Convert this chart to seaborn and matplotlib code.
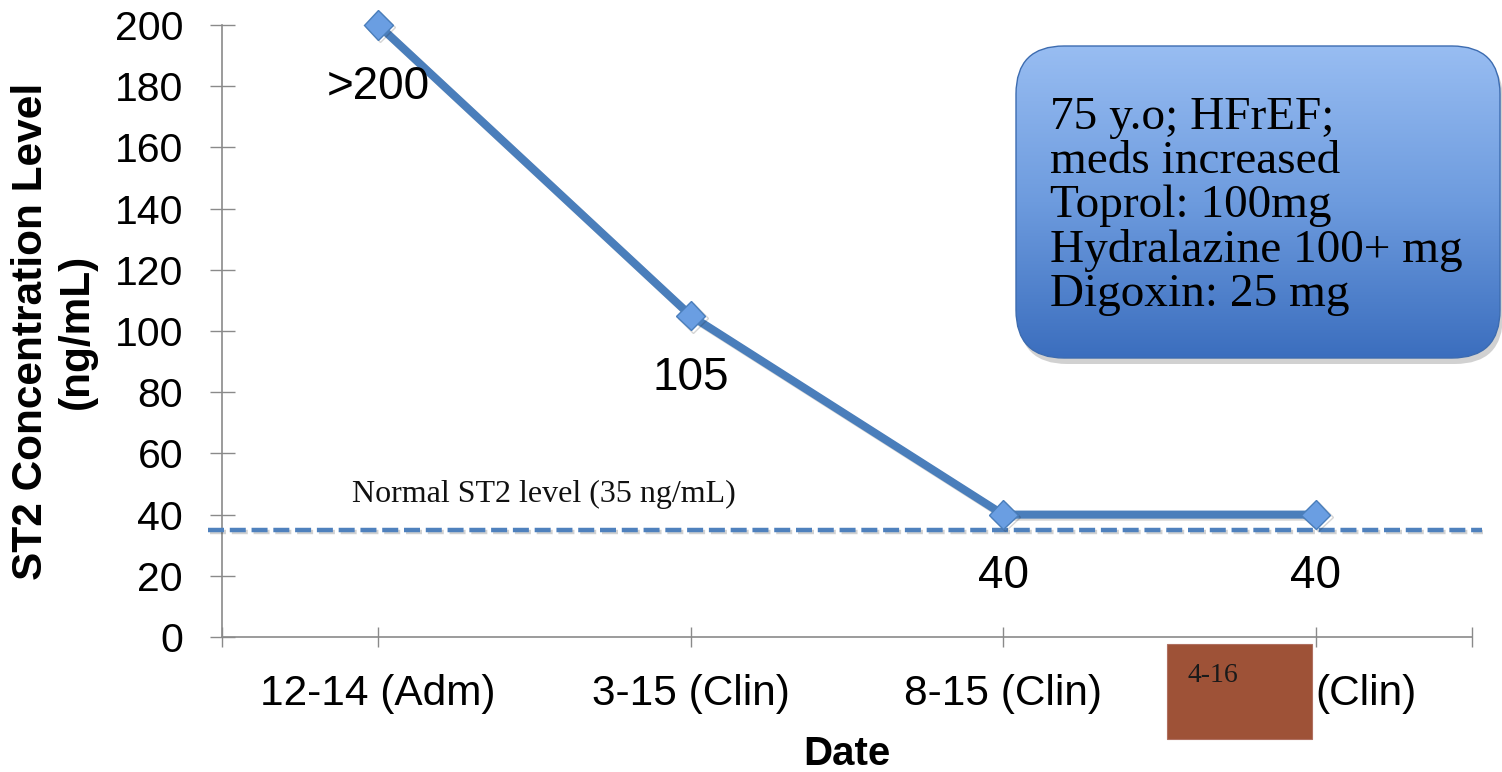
import matplotlib
matplotlib.use("Agg")
import matplotlib.pyplot as plt
import matplotlib.patheffects as pe
from matplotlib.colors import LinearSegmentedColormap
from matplotlib.patches import FancyBboxPatch, Rectangle
import numpy as np
import pandas as pd
import seaborn as sns

# ST2 measurements per visit
visit_dates = ["12-14", "3-15", "8-15", "4-16"]
visit_types = ["Adm", "Clin", "Clin", "Clin"]
st2_values = [200, 105, 40, 40]
value_labels = [">200", "105", "40", "40"]
normal_level = 35
y_ticks = list(range(0, 201, 20))
notes = ["75 y.o; HFrEF;", "meds increased", "Toprol: 100mg",
         "Hydralazine 100+ mg", "Digoxin: 25 mg"]

sns.set_theme(style="white")
plt.rcParams["font.family"] = ["Liberation Sans", "DejaVu Sans"]
plt.rcParams["text.color"] = "black"
SERIF = ["Liberation Serif", "DejaVu Serif"]

W, H = 1502, 772
fig = plt.figure(figsize=(W / 100, H / 100), dpi=100)
ax = fig.add_axes([222 / W, 1 - 637 / H, (1472 - 222) / W, (637 - 25) / H])

df = pd.DataFrame({"date": visit_dates, "kind": visit_types, "st2": st2_values})
df["pos"] = np.arange(len(df))

line_blue = "#4A7EBB"
sns.lineplot(data=df, x="pos", y="st2", ax=ax, color=line_blue, linewidth=5.8,
             marker="D", markersize=15, markerfacecolor="#6A9EE2",
             markeredgecolor="#4A7EBB", markeredgewidth=1, clip_on=False,
             zorder=4,
             path_effects=[pe.SimpleLineShadow(offset=(1.5, -1.5), alpha=0.18),
                           pe.Normal()])

# normal reference level
ax.axhline(normal_level, xmin=-0.011, xmax=1.008, color="#4F81BD", lw=3.2,
           ls=(0, (3.6, 1.3)), clip_on=False, zorder=3,
           path_effects=[pe.SimpleLineShadow(offset=(1, -1.5), alpha=0.2),
                         pe.Normal()])
ax.text(0.53, 46.5, "Normal ST2 level (35 ng/mL)", family=SERIF, fontsize=23,
        ha="center", va="center", color="#111111")

# value labels under each point
for x, y, lab in zip(df["pos"], df["st2"], value_labels):
    ax.annotate(lab, (x, y), xytext=(0, -44.5), textcoords="offset points",
                ha="center", va="center", fontsize=33, color="black", zorder=5)

ax.set_xlim(-0.5, 3.5)
ax.set_ylim(0, 200)
tick_text = [f"{d} ({k})" for d, k in zip(df["date"], df["kind"])]
tick_text[-1] = f"({df['kind'].iloc[-1]})"   # date of last visit sits on the sticker
ax.set_xticks(df["pos"])
ax.set_xticklabels(tick_text)
ax.get_xticklabels()[-1].set_horizontalalignment("left")
ax.set_xticks([-0.5, 3.5], minor=True)
ax.set_yticks(y_ticks)

for s in ["top", "right"]:
    ax.spines[s].set_visible(False)
for s in ["left", "bottom"]:
    ax.spines[s].set_color("#8A8A8A")
    ax.spines[s].set_linewidth(1.2)

ax.tick_params(axis="y", which="major", direction="inout", length=18, width=1,
               color="#8A8A8A", labelsize=29.5, pad=19, left=True,
               labelcolor="black")
ax.tick_params(axis="x", which="both", direction="inout", length=14, width=1,
               color="#8A8A8A", labelsize=30.5, pad=20, bottom=True,
               labelcolor="black")

ax.set_xlabel("Date", fontsize=29, fontweight="bold", labelpad=15,
              color="black")
ax.set_ylabel("ST2 Concentration Level\n(ng/mL)", fontsize=30.5,
              fontweight="bold", color="black")
ax.yaxis.set_label_coords(-0.1, 0.5)

# overlay in pixel coordinates for the note panel and the date sticker
ov = fig.add_axes([0, 0, 1, 1], zorder=5)
ov.patch.set_alpha(0)

bx0, by0, bx1, by1 = 1016, 46, 1500, 358
shadow = FancyBboxPatch((bx0 + 3, by0 + 6), bx1 - bx0, by1 - by0,
                        boxstyle="round,pad=0,rounding_size=48",
                        fc="black", ec="none", alpha=0.18)
ov.add_patch(shadow)
panel = FancyBboxPatch((bx0, by0), bx1 - bx0, by1 - by0,
                       boxstyle="round,pad=0,rounding_size=48",
                       fc="none", ec="#3D6CB0", lw=1, zorder=3)
ov.add_patch(panel)
grad = np.linspace(0, 1, 256).reshape(-1, 1)
cmap = LinearSegmentedColormap.from_list("panel", ["#98BDF2", "#6D9BDE", "#3B6EBE"])
im = ov.imshow(grad, extent=(bx0, bx1, by1, by0), cmap=cmap, aspect="auto",
               zorder=2)
im.set_clip_path(panel)
ov.text(1050, 206, "\n".join(notes), family=SERIF, fontsize=34,
        ha="left", va="center", linespacing=1.05, color="black", zorder=4)

ov.add_patch(Rectangle((1167, 644), 145, 95, fc="#9E5237", ec="#B07060",
                       lw=0.8, zorder=5))
ov.text(1187, 675, df["date"].iloc[-1], family=SERIF, fontsize=20, ha="left",
        va="center", color="#1A1A1A", zorder=6)

ov.set_xlim(0, W)
ov.set_ylim(H, 0)
ov.axis("off")

fig.savefig("out.png", dpi=100)
